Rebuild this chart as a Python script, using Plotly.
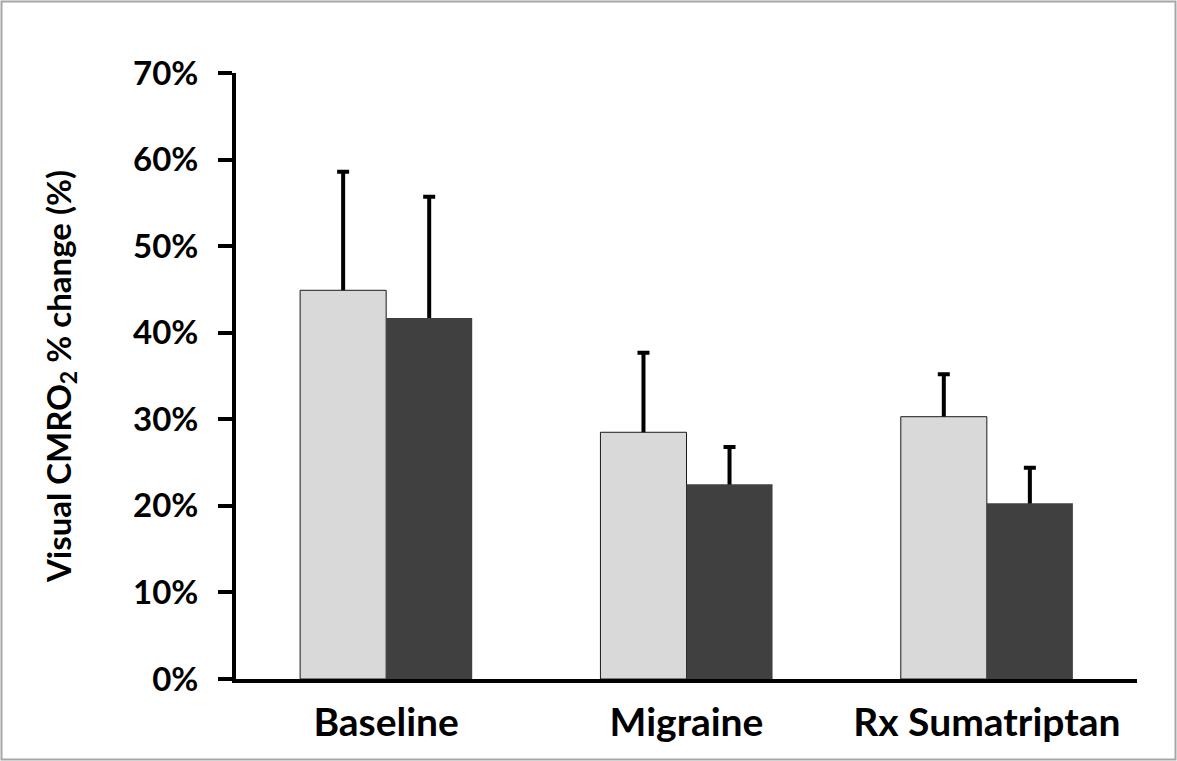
import plotly.graph_objects as go

categories = ["Baseline", "Migraine", "Rx Sumatriptan"]
series_a = [0.449, 0.285, 0.303]
series_a_err = [0.137, 0.092, 0.049]
series_b = [0.417, 0.225, 0.203]
series_b_err = [0.140, 0.043, 0.041]
y_ticks = [0, 0.1, 0.2, 0.3, 0.4, 0.5, 0.6, 0.7]

FONT = "Lato"
W, H = 1177, 761
ML, MR, MT, MB = 236, 40, 73, 82

fig = go.Figure()

# Error bars first (carried by transparent bars), so the real bars cover the lower part
for name, vals, errs in (("a", series_a, series_a_err), ("b", series_b, series_b_err)):
    fig.add_trace(go.Bar(
        x=categories, y=vals, offsetgroup=name,
        marker=dict(color="rgba(0,0,0,0)", line=dict(width=0)),
        error_y=dict(type="data", array=errs, arrayminus=vals, symmetric=False,
                     thickness=4, width=6, color="black"),
        showlegend=False, hoverinfo="skip",
    ))

fig.add_trace(go.Bar(
    x=categories, y=series_a, offsetgroup="a",
    marker=dict(color="#d9d9d9", line=dict(color="#1a1a1a", width=1)),
    showlegend=False,
))
fig.add_trace(go.Bar(
    x=categories, y=series_b, offsetgroup="b",
    marker=dict(color="#404040", line=dict(color="#404040", width=0)),
    showlegend=False,
))

pw = W - ML - MR
ph = H - MT - MB
fig.add_shape(type="rect", xref="paper", yref="paper",
              x0=(1.5 - ML) / pw, x1=(W - 1.5 - ML) / pw,
              y0=-(H - 1.5 - MT - ph) / ph, y1=1 + (MT - 1.5) / ph,
              line=dict(color="#a6a6a6", width=2), layer="below")

fig.update_layout(
    width=W, height=H,
    margin=dict(l=ML, r=MR, t=MT, b=MB),
    paper_bgcolor="white", plot_bgcolor="white",
    barmode="group", bargap=0.427, bargroupgap=0,
    font=dict(family=FONT, color="black"),
    xaxis=dict(
        showline=True, linecolor="black", linewidth=4,
        ticks="", showgrid=False, zeroline=False,
        tickfont=dict(family=FONT, size=39, weight="bold"),
        ticklabelstandoff=6,
    ),
    yaxis=dict(
        range=[0, 0.7], tickvals=y_ticks, tickformat=".0%",
        showline=True, linecolor="black", linewidth=4,
        ticks="outside", ticklen=14, tickwidth=4, tickcolor="black",
        showgrid=False, zeroline=False,
        tickfont=dict(family=FONT, size=33, weight="bold"),
        ticklabelstandoff=13,
        title=dict(text="Visual CMRO<sub>2</sub> % change (%)",
                   font=dict(family=FONT, size=33, weight="bold"), standoff=53),
    ),
)

fig.write_html("out.html", config={"displayModeBar": False},
               post_script="document.body.style.margin='0px';")
